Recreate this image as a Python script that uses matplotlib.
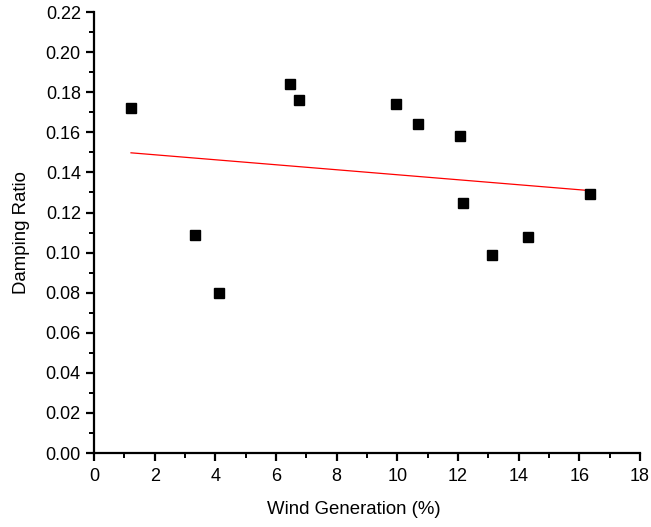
import numpy as np
import matplotlib
matplotlib.use("Agg")
import matplotlib.pyplot as plt
from matplotlib.ticker import MultipleLocator, FormatStrFormatter

plt.rcParams.update({
    "font.family": "Liberation Sans", "font.size": 13,
    "axes.linewidth": 1.6,
    "xtick.major.width": 1.6, "ytick.major.width": 1.6,
    "xtick.minor.width": 1.4, "ytick.minor.width": 1.4,
    "xtick.major.size": 6, "ytick.major.size": 6,
    "xtick.minor.size": 3.5, "ytick.minor.size": 3.5,
    "xtick.direction": "out", "ytick.direction": "out",
    "xtick.major.pad": 5,
})

wind = [1.22, 3.33, 4.12, 6.46, 6.76, 9.96, 10.68, 12.07, 12.17, 13.12, 14.31, 16.35]
damping = [0.172, 0.109, 0.080, 0.184, 0.176, 0.174, 0.164, 0.158, 0.125, 0.099, 0.108, 0.129]

fig = plt.figure(figsize=(6.51, 5.27), dpi=100)
ax = fig.add_axes([0.1444, 0.1404, 0.8386, 0.8366])

ax.plot(wind, damping, "s", color="k", ms=7, zorder=3)

# linear fit over the data range
k, b = np.polyfit(wind, damping, 1)
xf = np.array([min(wind), max(wind)])
ax.plot(xf, k*xf + b, color="red", lw=0.9, zorder=2)

ax.set_xlim(0, 18); ax.set_ylim(0, 0.22)
ax.xaxis.set_major_locator(MultipleLocator(2))
ax.xaxis.set_minor_locator(MultipleLocator(1))
ax.yaxis.set_major_locator(MultipleLocator(0.02))
ax.yaxis.set_minor_locator(MultipleLocator(0.01))
ax.yaxis.set_major_formatter(FormatStrFormatter("%.2f"))
for s in ("top", "right"):
    ax.spines[s].set_visible(False)
ax.set_xlabel("Wind Generation (%)", fontsize=13.4)
ax.set_ylabel("Damping Ratio", fontsize=13.4)
ax.xaxis.set_label_coords(0.476, -0.108)
ax.yaxis.set_label_coords(-0.117, 0.5)

fig.savefig("out.png", dpi=100)
